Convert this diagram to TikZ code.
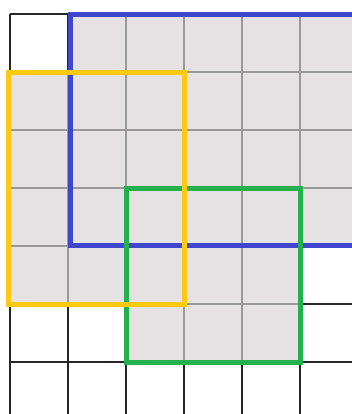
\documentclass[tikz,border=0pt]{standalone}
\begin{document}
\begin{tikzpicture}[x=1pt,y=-1pt,
  gridblack/.style={draw=black!85,line width=1.4pt},
  gridgray/.style={draw=black!40,line width=1.4pt},
  shade/.style={fill={rgb,255:red,230;green,226;blue,228}},
  blueframe/.style={draw={rgb,255:red,63;green,72;blue,204},line width=5pt},
  greenframe/.style={draw={rgb,255:red,34;green,177;blue,76},line width=5pt},
  yellowframe/.style={draw={rgb,255:red,255;green,201;blue,14},line width=5pt}]
\useasboundingbox (0,0) rectangle (352,414);
\clip (0,0) rectangle (352,414);
\fill[white] (0,0) rectangle (352,414);
% black grid
\foreach \i in {0,...,5} \draw[gridblack] (10+58*\i,14) -- (10+58*\i,420);
\foreach \j in {0,...,7} \draw[gridblack] (10,14+58*\j) -- (360,14+58*\j);
% shaded union
\path[shade] (68,14) rectangle (360,246);
\path[shade] (10,72) rectangle (184,304);
\path[shade] (126,188) rectangle (300,362);
\begin{scope}
  \clip (68,14) rectangle (360,246) (10,72) rectangle (184,304) (126,188) rectangle (300,362);
  \foreach \i in {0,...,6} \draw[gridgray] (10+58*\i,14) -- (10+58*\i,420);
  \foreach \j in {0,...,7} \draw[gridgray] (10,14+58*\j) -- (360,14+58*\j);
\end{scope}
% frames
\draw[blueframe] (70,15) rectangle (365,245);
\draw[greenframe] (126,188) rectangle (300,362);
\draw[yellowframe] (8,73) rectangle (184,304);
\end{tikzpicture}
\end{document}
